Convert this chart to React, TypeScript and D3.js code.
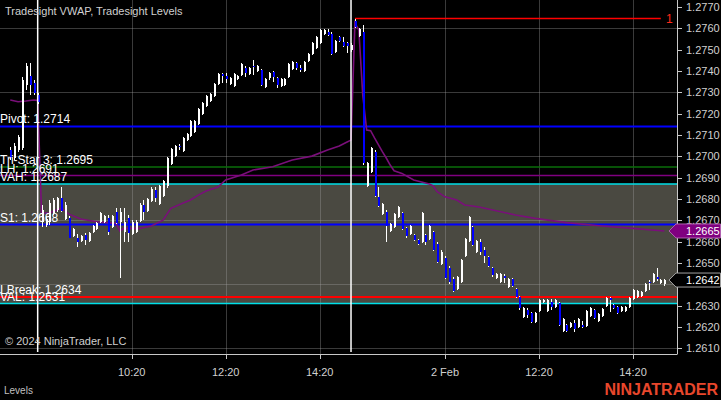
import React from 'react';
import * as d3 from 'd3';

const W = 721;
const H = 400;

// ---- bar data: [open, high, low, close] ----
const preStart = -8; // bar index of first pre-session bar
const preSession: number[][] = [
  [1.2703, 1.27044, 1.26983, 1.26992],
  [1.26992, 1.27062, 1.26983, 1.27048],
  [1.2703, 1.271, 1.2702, 1.2709],
  [1.27039, 1.27372, 1.2703, 1.27358],
  [1.27334, 1.27437, 1.27311, 1.27423],
  [1.27377, 1.27437, 1.27287, 1.27334],
  [1.27344, 1.27358, 1.27287, 1.27297],
  [1.27287, 1.27297, 1.27245, 1.27255],
];

const session1: number[][] = [
  [1.26692, 1.26772, 1.26668, 1.26748],
  [1.26678, 1.2672, 1.26668, 1.26706],
  [1.26692, 1.26795, 1.26678, 1.26781],
  [1.26734, 1.26804, 1.26725, 1.26795],
  [1.26748, 1.26809, 1.26739, 1.26804],
  [1.26804, 1.26856, 1.26739, 1.26743],
  [1.26706, 1.26786, 1.26701, 1.26772],
  [1.26711, 1.2672, 1.26617, 1.26617],
  [1.26626, 1.26664, 1.26622, 1.26659],
  [1.26617, 1.26636, 1.26575, 1.26598],
  [1.26603, 1.26631, 1.26598, 1.26626],
  [1.26631, 1.2664, 1.26584, 1.26607],
  [1.26603, 1.26645, 1.26598, 1.2664],
  [1.26645, 1.26678, 1.2664, 1.26673],
  [1.26659, 1.26692, 1.26654, 1.26687],
  [1.26692, 1.26739, 1.26687, 1.26734],
  [1.26692, 1.26725, 1.26687, 1.2672],
  [1.26711, 1.26725, 1.26631, 1.26645],
  [1.26668, 1.26725, 1.26664, 1.2672],
  [1.26739, 1.26757, 1.26682, 1.26687],
  [1.26692, 1.26757, 1.26429, 1.26739],
  [1.26645, 1.26757, 1.26598, 1.26692],
  [1.26711, 1.26725, 1.26598, 1.2664],
  [1.26636, 1.26701, 1.26631, 1.26692],
  [1.26645, 1.26701, 1.2664, 1.26692],
  [1.26697, 1.26781, 1.26692, 1.26772],
  [1.26772, 1.26795, 1.26701, 1.26739],
  [1.26743, 1.26804, 1.26739, 1.268],
  [1.2679, 1.26856, 1.26786, 1.26847],
  [1.26842, 1.26856, 1.26786, 1.26804],
  [1.26776, 1.26865, 1.26772, 1.26861],
  [1.26814, 1.26889, 1.26809, 1.26884],
  [1.26861, 1.26997, 1.26851, 1.26992],
  [1.26964, 1.27039, 1.26959, 1.27034],
  [1.27001, 1.27053, 1.26997, 1.27048],
  [1.27048, 1.27058, 1.2703, 1.27044],
  [1.27025, 1.2709, 1.2702, 1.27086],
  [1.27076, 1.27109, 1.27072, 1.27105],
  [1.27095, 1.2717, 1.2709, 1.27165],
  [1.27114, 1.2717, 1.27109, 1.27165],
  [1.27151, 1.27227, 1.27147, 1.27222],
  [1.27198, 1.27255, 1.27194, 1.2725],
  [1.27236, 1.27287, 1.27231, 1.27283],
  [1.27259, 1.27297, 1.27255, 1.27292],
  [1.27283, 1.27344, 1.27278, 1.27339],
  [1.27339, 1.27391, 1.27334, 1.27386],
  [1.27386, 1.27391, 1.27344, 1.27377],
  [1.27377, 1.27391, 1.27344, 1.27362],
  [1.27339, 1.27372, 1.27334, 1.27367],
  [1.2733, 1.27391, 1.27325, 1.27386],
  [1.27362, 1.27381, 1.27358, 1.27377],
  [1.27381, 1.27437, 1.27377, 1.27433],
  [1.27414, 1.27423, 1.27372, 1.27391],
  [1.27386, 1.27419, 1.27381, 1.27414],
  [1.27423, 1.27452, 1.27381, 1.27419],
  [1.274, 1.27428, 1.27395, 1.27423],
  [1.27405, 1.27409, 1.2733, 1.27334],
  [1.27325, 1.27367, 1.2732, 1.27362],
  [1.27367, 1.27395, 1.27358, 1.27391],
  [1.27395, 1.274, 1.27348, 1.27372],
  [1.27367, 1.27372, 1.2732, 1.27334],
  [1.2733, 1.27367, 1.27325, 1.27362],
  [1.27334, 1.27367, 1.2733, 1.27362],
  [1.27372, 1.27437, 1.27367, 1.27433],
  [1.27409, 1.27447, 1.27405, 1.27442],
  [1.27437, 1.27442, 1.27405, 1.27414],
  [1.27414, 1.27428, 1.27395, 1.27405],
  [1.274, 1.27447, 1.27395, 1.27442],
  [1.27447, 1.27484, 1.27442, 1.2748],
  [1.2748, 1.27536, 1.27475, 1.27531],
  [1.27508, 1.27564, 1.27503, 1.2756],
  [1.27531, 1.27597, 1.27527, 1.27592],
  [1.27574, 1.27597, 1.27569, 1.27592],
  [1.27583, 1.27597, 1.27564, 1.27569],
  [1.27574, 1.27583, 1.27475, 1.2748],
  [1.27489, 1.27545, 1.27484, 1.27541],
  [1.2756, 1.27564, 1.27536, 1.27541],
  [1.27536, 1.2756, 1.27513, 1.27517],
  [1.27531, 1.27536, 1.27484, 1.27517],
  [1.27498, 1.27531, 1.27489, 1.27522],
];

const session2: number[][] = [
  [1.27635, 1.27644, 1.27602, 1.27606],
  [1.27564, 1.27602, 1.2756, 1.27597],
  [1.27583, 1.27616, 1.26959, 1.26969],
  [1.26861, 1.26973, 1.26856, 1.26969],
  [1.26926, 1.27044, 1.26922, 1.27039],
  [1.2702, 1.2703, 1.26809, 1.26814],
  [1.26809, 1.26856, 1.26762, 1.26767],
  [1.26729, 1.26781, 1.26725, 1.26776],
  [1.26739, 1.26748, 1.26598, 1.26673],
  [1.2665, 1.26687, 1.26645, 1.26682],
  [1.26668, 1.26734, 1.26664, 1.26729],
  [1.26715, 1.26767, 1.26711, 1.26762],
  [1.26734, 1.26739, 1.26654, 1.26659],
  [1.26664, 1.26668, 1.26617, 1.26626],
  [1.26636, 1.26678, 1.26631, 1.26673],
  [1.26631, 1.26636, 1.26603, 1.26607],
  [1.26607, 1.26612, 1.26584, 1.26589],
  [1.26598, 1.26739, 1.26593, 1.26734],
  [1.26631, 1.26636, 1.26584, 1.26598],
  [1.26612, 1.26678, 1.26607, 1.26673],
  [1.26645, 1.2665, 1.26556, 1.2656],
  [1.26589, 1.26598, 1.265, 1.26504],
  [1.26495, 1.2656, 1.2649, 1.26551],
  [1.26523, 1.26532, 1.26425, 1.26429],
  [1.26476, 1.26485, 1.26401, 1.2641],
  [1.26425, 1.26434, 1.26364, 1.26368],
  [1.26378, 1.26439, 1.26373, 1.26434],
  [1.2641, 1.26518, 1.26406, 1.26514],
  [1.26532, 1.26617, 1.26528, 1.26612],
  [1.26603, 1.2672, 1.26598, 1.26715],
  [1.26668, 1.26673, 1.26579, 1.26584],
  [1.26551, 1.26607, 1.26546, 1.26603],
  [1.26598, 1.26612, 1.26537, 1.26551],
  [1.2656, 1.26575, 1.265, 1.26532],
  [1.26528, 1.26532, 1.26481, 1.26485],
  [1.26476, 1.26481, 1.26434, 1.26443],
  [1.26429, 1.26453, 1.26425, 1.26448],
  [1.2641, 1.26453, 1.26406, 1.26448],
  [1.26439, 1.26448, 1.26406, 1.26429],
  [1.26387, 1.26429, 1.26382, 1.26425],
  [1.26425, 1.26429, 1.26387, 1.26392],
  [1.26378, 1.26382, 1.26335, 1.2634],
  [1.2634, 1.26345, 1.26279, 1.26289],
  [1.26246, 1.26293, 1.26242, 1.26289],
  [1.26279, 1.26289, 1.26242, 1.26256],
  [1.26265, 1.2627, 1.26218, 1.26223],
  [1.26223, 1.2627, 1.26218, 1.26265],
  [1.26274, 1.26331, 1.2627, 1.26326],
  [1.26317, 1.26331, 1.26312, 1.26326],
  [1.26274, 1.26331, 1.2627, 1.26326],
  [1.26317, 1.26331, 1.26279, 1.26293],
  [1.26293, 1.26331, 1.26289, 1.26326],
  [1.26312, 1.26317, 1.26204, 1.26209],
  [1.26181, 1.26242, 1.26176, 1.26237],
  [1.26209, 1.26213, 1.26176, 1.26181],
  [1.26199, 1.26223, 1.26195, 1.26218],
  [1.26218, 1.26232, 1.26176, 1.2619],
  [1.26199, 1.26242, 1.26195, 1.26237],
  [1.26209, 1.26228, 1.26195, 1.26199],
  [1.26204, 1.26279, 1.26199, 1.26274],
  [1.26251, 1.26293, 1.26246, 1.26289],
  [1.26279, 1.26284, 1.26237, 1.26242],
  [1.26228, 1.26265, 1.26223, 1.2626],
  [1.26251, 1.26289, 1.26246, 1.26284],
  [1.26298, 1.2634, 1.26293, 1.26335],
  [1.26335, 1.2634, 1.2627, 1.26326],
  [1.26303, 1.26307, 1.26284, 1.26289],
  [1.26293, 1.26298, 1.2626, 1.26265],
  [1.26274, 1.26298, 1.2627, 1.26293],
  [1.26274, 1.26298, 1.2627, 1.26293],
  [1.26293, 1.2634, 1.26289, 1.26335],
  [1.26331, 1.26378, 1.26326, 1.26373],
  [1.2634, 1.26373, 1.26335, 1.26368],
  [1.26345, 1.26368, 1.2634, 1.26364],
  [1.26368, 1.26406, 1.26364, 1.26401],
  [1.2641, 1.2642, 1.26373, 1.26406],
  [1.2641, 1.26453, 1.26406, 1.26448],
  [1.26434, 1.26476, 1.26415, 1.26425],
  [1.26406, 1.26425, 1.26401, 1.2642],
  [1.26401, 1.26425, 1.26392, 1.2642],
];

// VWAP: [bar index, value]
const vwapPoints: number[][] = [
  [-8, 1.27264], [-6, 1.27256], [-4, 1.27259], [-2, 1.27264], [-1, 1.27262],
  [0, 1.26734], [2, 1.26734], [5, 1.26757], [7, 1.26729], [10, 1.26706], [14, 1.26693],
  [19, 1.26686], [20, 1.2665], [21, 1.26662], [25, 1.26662], [28, 1.26673], [31, 1.26701],
  [33, 1.26756], [36, 1.2678], [38, 1.26795], [40, 1.26818], [42, 1.26837], [45, 1.26856],
  [47, 1.26889], [51, 1.26912], [54, 1.26936], [59, 1.26951], [64, 1.26983], [69, 1.27001],
  [73, 1.2703], [76, 1.27048], [78, 1.27067], [79, 1.27076],
  [80, 1.27625], [81, 1.27592], [82, 1.27287], [83, 1.27123], [84, 1.2712], [85, 1.27086],
  [87, 1.27022], [88, 1.26992], [89, 1.26959], [90, 1.26932], [92, 1.2692], [95, 1.26889],
  [99, 1.2687], [100, 1.26861], [101, 1.26834], [103, 1.2681], [106, 1.26795], [108, 1.26772],
  [110, 1.26767], [112, 1.26761], [114, 1.26753], [121, 1.26725], [126, 1.26709],
  [134, 1.26689], [143, 1.26673], [151, 1.26662], [159, 1.2665],
];

const sessionBreakBars = [-1, 79];
const timeTickBars = [23, 47, 71, 103, 127, 151];
const timeTickLabels = ['10:20', '12:20', '14:20', '2 Feb', '12:20', '14:20'];
const priceTicks = [1.261, 1.262, 1.263, 1.264, 1.265, 1.266, 1.267, 1.268, 1.269, 1.27, 1.271, 1.272, 1.273, 1.274, 1.275, 1.276, 1.277];
const gridPrices = [1.261, 1.264, 1.267, 1.27, 1.273, 1.276];

const levelNames = ['Pivot', 'Tri-Star 3', 'LH', 'VAH', 'S1', 'LBreak', 'VAL'];
const levelPrices = [1.2714, 1.2695, 1.2691, 1.2687, 1.2668, 1.2634, 1.2631];
const vah = 1.2687;
const val = 1.2631;
const highLinePrice = 1.27646;
const highLineBars = [80, 158.1];
const highLineLabel = '1';
const vwapLast = 1.2665;
const lastClose = 1.2642;

const levelStyle: Record<string, { color: string; width: number }> = {
  'Pivot': { color: '#0000ff', width: 2 },
  'Tri-Star 3': { color: '#0a6e0a', width: 1.5 },
  'LH': { color: '#800080', width: 1.5 },
  'VAH': { color: '#00e0e8', width: 1.5 },
  'S1': { color: '#0000ff', width: 2 },
  'LBreak': { color: '#ff0000', width: 2 },
  'VAL': { color: '#00e0e8', width: 1.5 },
};

const FONT = '"Liberation Sans", Arial, sans-serif';

export default function App() {
  const plotRight = 677;
  const plotBottom = 354;
  const x = d3.scaleLinear().domain([-10.62, 162.23]).range([0, plotRight]);
  const y = d3.scaleLinear().domain([1.261, 1.277]).range([348.3, 7.0]);

  const bars: { i: number; o: number; h: number; l: number; c: number }[] = [];
  preSession.forEach((b, k) => bars.push({ i: preStart + k, o: b[0], h: b[1], l: b[2], c: b[3] }));
  session1.forEach((b, k) => bars.push({ i: k, o: b[0], h: b[1], l: b[2], c: b[3] }));
  session2.forEach((b, k) => bars.push({ i: 80 + k, o: b[0], h: b[1], l: b[2], c: b[3] }));

  const vwapLine = d3
    .line<number[]>()
    .x((d) => x(d[0]))
    .y((d) => y(d[1]))(vwapPoints) as string;

  const gridColor = 'rgba(160,160,160,0.36)';
  const axisColor = '#c8c8c8';

  const markerPath = (py: number, h: number) => {
    const t = py - h / 2;
    const b = py + h / 2;
    return `M669,${py} L676,${t} L720.5,${t} L720.5,${b} L676,${b} Z`;
  };

  // axis labels fully hidden behind the last-price marker are not drawn
  const visibleTicks = priceTicks.filter((p) => Math.abs(y(p) - y(lastClose)) > 6);

  return (
    <svg
      width={W}
      height={H}
      style={{ position: 'absolute', left: 0, top: 0, display: 'block', background: '#000' }}
      fontFamily={FONT}
    >
      <rect x={0} y={0} width={W} height={H} fill="#000" />
      {/* value area */}
      <rect x={0} y={y(vah)} width={plotRight} height={y(val) - y(vah)} fill="#4a4941" />

      {/* grid */}
      {gridPrices.map((p, k) => (
        <line key={'gh' + k} x1={0} x2={plotRight} y1={Math.round(y(p)) + 0.5} y2={Math.round(y(p)) + 0.5} stroke={gridColor} strokeWidth={1} />
      ))}
      {timeTickBars.map((b, k) => (
        <line key={'gv' + k} x1={Math.round(x(b)) + 0.5} x2={Math.round(x(b)) + 0.5} y1={0} y2={plotBottom} stroke={gridColor} strokeWidth={1} />
      ))}

      {/* level lines */}
      {levelNames.map((n, k) => (
        <line key={'lv' + k} x1={0} x2={plotRight} y1={y(levelPrices[k])} y2={y(levelPrices[k])} stroke={levelStyle[n].color} strokeWidth={levelStyle[n].width} />
      ))}

      {/* session high line */}
      <line x1={x(highLineBars[0])} x2={x(highLineBars[1])} y1={y(highLinePrice)} y2={y(highLinePrice)} stroke="#ff0000" strokeWidth={1.5} />
      <text x={666} y={y(highLinePrice) + 4.5} fill="#ff2a1a" fontSize={12}>{highLineLabel}</text>

      {/* VWAP */}
      <path d={vwapLine} fill="none" stroke="#7a0f7a" strokeWidth={1.6} />

      {/* candles */}
      <g shapeRendering="crispEdges">
        {bars.map((b) => {
          const cx = Math.round(x(b.i));
          const up = b.c >= b.o;
          const top = y(Math.max(b.o, b.c));
          const bot = y(Math.min(b.o, b.c));
          return (
            <g key={'b' + b.i}>
              <line x1={cx + 0.5} x2={cx + 0.5} y1={y(b.h)} y2={y(b.l)} stroke="#ffffff" strokeWidth={1} />
              <rect x={cx - 0.5} y={top} width={2} height={Math.max(1, bot - top)} fill={up ? '#ffffff' : '#0000ff'} />
            </g>
          );
        })}
      </g>

      {/* session breaks */}
      {sessionBreakBars.map((b, k) => (
        <line key={'sb' + k} x1={x(b)} x2={x(b)} y1={0} y2={352} stroke="#ffffff" strokeWidth={1.5} />
      ))}

      {/* level labels */}
      {levelNames.map((n, k) => (
        <text key={'ll' + k} x={0} y={y(levelPrices[k]) - 3} fill="#ffffff" fontSize={12}>
          {`${n}: ${levelPrices[k].toFixed(4)}`}
        </text>
      ))}

      {/* axes */}
      <line x1={plotRight + 0.5} x2={plotRight + 0.5} y1={0} y2={plotBottom} stroke={axisColor} strokeWidth={1} />
      <line x1={0} x2={plotRight + 0.5} y1={plotBottom + 0.5} y2={plotBottom + 0.5} stroke={axisColor} strokeWidth={1} />
      {priceTicks.map((p, k) => (
        <line key={'ptl' + k} x1={plotRight} x2={plotRight + 5} y1={Math.round(y(p)) + 0.5} y2={Math.round(y(p)) + 0.5} stroke={axisColor} />
      ))}
      {visibleTicks.map((p, k) => (
        <text key={'ptt' + k} x={686} y={y(p) + 4} fill="#d0d0d0" fontSize={11}>{p.toFixed(4)}</text>
      ))}
      {timeTickBars.map((b, k) => (
        <g key={'tt' + k}>
          <line x1={Math.round(x(b)) + 0.5} x2={Math.round(x(b)) + 0.5} y1={plotBottom} y2={plotBottom + 5} stroke={axisColor} />
          <text x={x(b)} y={376} fill="#d0d0d0" fontSize={11} textAnchor="middle">{timeTickLabels[k]}</text>
        </g>
      ))}

      {/* price markers */}
      <path d={markerPath(y(vwapLast), 14)} fill="#800080" stroke="#b060b0" strokeWidth={1} />
      <text x={686} y={y(vwapLast) + 4} fill="#ffffff" fontSize={11}>{vwapLast.toFixed(4)}</text>
      <path d={markerPath(y(lastClose), 14)} fill="#000" stroke="#a0a0a0" strokeWidth={1} />
      <text x={686} y={y(lastClose) + 4} fill="#ffffff" fontSize={11}>{lastClose.toFixed(4)}</text>

      {/* texts */}
      <text x={5} y={15} fill="#d0d0d0" fontSize={11}>Tradesight VWAP, Tradesight Levels</text>
      <text x={5} y={345} fill="#d0d0d0" fontSize={11}>© 2024 NinjaTrader, LLC</text>
      <text x={4} y={394} fill="#c0c0c0" fontSize={10}>Levels</text>
      <text x={718} y={395} fill="#e8472c" fontSize={16} fontWeight="bold" textAnchor="end">NINJATRADER</text>
    </svg>
  );
}
